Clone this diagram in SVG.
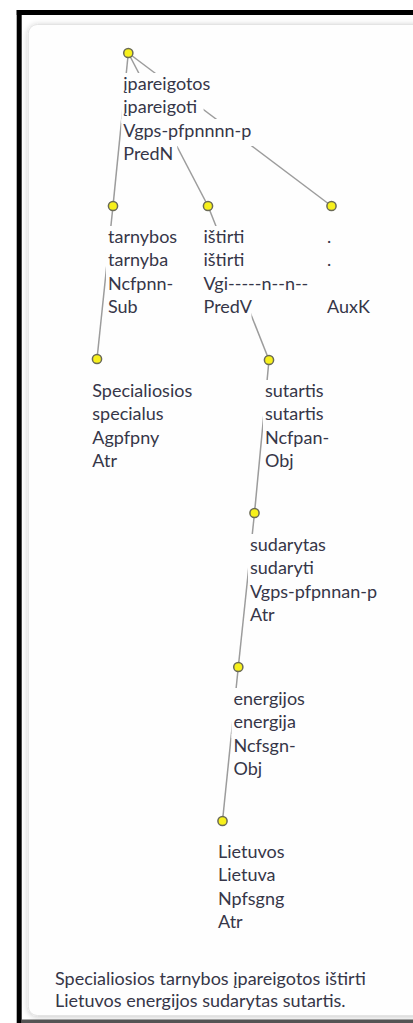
<svg xmlns="http://www.w3.org/2000/svg" width="413" height="1023" viewBox="0 0 413 1023">
<defs>
<style>
text{font-family:Lato,"Open Sans","Liberation Sans",sans-serif;font-size:18px;fill:#363648}
.bg{fill:#fefefe}
.e{stroke:#9c9c9c;stroke-width:1.5;fill:none}
.n{fill:#f7f01c;stroke:#6a6a55;stroke-width:1.5}
</style>
<filter id="sh" x="-5%" y="-5%" width="110%" height="110%">
<feGaussianBlur in="SourceAlpha" stdDeviation="3"/>
<feOffset dx="0" dy="1" result="b"/>
<feComponentTransfer><feFuncA type="linear" slope="0.22"/></feComponentTransfer>
<feMerge><feMergeNode/><feMergeNode in="SourceGraphic"/></feMerge>
</filter>
</defs>
<rect x="0" y="0" width="413" height="1023" fill="#ffffff"/>
<g id="frame">
<line x1="19.2" y1="10" x2="19.2" y2="1023" stroke="#000" stroke-width="5"/>
<line x1="16.7" y1="12.5" x2="413" y2="12.5" stroke="#000" stroke-width="5"/>
<line x1="21.7" y1="1021.3" x2="413" y2="1021.3" stroke="#555" stroke-width="3.5"/>
<rect x="28.3" y="24.5" width="410" height="991" rx="9" fill="#fefefe" stroke="#e4e4e4" stroke-width="1" filter="url(#sh)"/>
</g>
<g id="connectors">
<line class="e" x1="128.3" y1="53" x2="113" y2="206"/>
<line class="e" x1="128.3" y1="53" x2="208" y2="206"/>
<line class="e" x1="128.3" y1="53" x2="331.5" y2="206"/>
<line class="e" x1="113" y1="206" x2="97" y2="359"/>
<line class="e" x1="208" y1="206" x2="269" y2="360"/>
<line class="e" x1="269" y1="360" x2="254.5" y2="513"/>
<line class="e" x1="254.5" y1="513" x2="238.3" y2="667"/>
<line class="e" x1="238.3" y1="667" x2="222.5" y2="821"/>
</g>
<g id="n-root">
<rect class="bg" x="121.3" y="73" width="97.3" height="27"/>
<rect class="bg" x="121.3" y="96" width="82.3" height="27"/>
<rect class="bg" x="121.3" y="119" width="140.7" height="27"/>
<rect class="bg" x="121.3" y="142" width="56" height="27"/>
<text x="123.3" y="90">įpareigotos</text>
<text x="123.3" y="113.3">įpareigoti</text>
<text x="123.3" y="136.6">Vgps-pfpnnnn-p</text>
<text x="123.3" y="159.9">PredN</text>
<circle class="n" cx="128.3" cy="53" r="4.6"/>
</g>
<g id="n-tarnybos">
<rect class="bg" x="106" y="226" width="76" height="27"/>
<rect class="bg" x="106" y="249" width="67" height="27"/>
<rect class="bg" x="106" y="272" width="71" height="27"/>
<rect class="bg" x="106" y="295" width="35" height="27"/>
<text x="108" y="243">tarnybos</text>
<text x="108" y="266.3">tarnyba</text>
<text x="108" y="289.6">Ncfpnn-</text>
<text x="108" y="312.9">Sub</text>
<circle class="n" cx="113" cy="206" r="4.6"/>
</g>
<g id="n-istirti">
<rect class="bg" x="201.5" y="226" width="47" height="27"/>
<rect class="bg" x="201.5" y="249" width="47" height="27"/>
<rect class="bg" x="201.5" y="272" width="102" height="27"/>
<rect class="bg" x="201.5" y="295" width="50" height="27"/>
<text x="203.5" y="243">ištirti</text>
<text x="203.5" y="266.3">ištirti</text>
<text x="203.5" y="289.6">Vgi-----n--n--</text>
<text x="203.5" y="312.9">PredV</text>
<circle class="n" cx="208" cy="206" r="4.6"/>
</g>
<g id="n-period">
<text x="327" y="243">.</text>
<text x="327" y="266.3">.</text>
<text x="327" y="312.9">AuxK</text>
<circle class="n" cx="331.5" cy="206" r="4.6"/>
</g>
<g id="n-specialiosios">
<rect class="bg" x="90.3" y="380" width="107" height="27"/>
<rect class="bg" x="90.3" y="403" width="77" height="27"/>
<rect class="bg" x="90.3" y="426" width="74" height="27"/>
<rect class="bg" x="90.3" y="449" width="30" height="27"/>
<text x="92.3" y="397">Specialiosios</text>
<text x="92.3" y="420.3">specialus</text>
<text x="92.3" y="443.6">Agpfpny</text>
<text x="92.3" y="466.9">Atr</text>
<circle class="n" cx="97" cy="359" r="4.6"/>
</g>
<g id="n-sutartis">
<rect class="bg" x="263" y="380" width="64" height="27"/>
<rect class="bg" x="263" y="403" width="64" height="27"/>
<rect class="bg" x="263" y="426" width="69" height="27"/>
<rect class="bg" x="263" y="449" width="34" height="27"/>
<text x="265" y="397">sutartis</text>
<text x="265" y="420.3">sutartis</text>
<text x="265" y="443.6">Ncfpan-</text>
<text x="265" y="466.9">Obj</text>
<circle class="n" cx="269" cy="360" r="4.6"/>
</g>
<g id="n-sudarytas">
<rect class="bg" x="248" y="534" width="82" height="27"/>
<rect class="bg" x="248" y="557" width="70" height="27"/>
<rect class="bg" x="248" y="580" width="135" height="27"/>
<rect class="bg" x="248" y="603" width="30" height="27"/>
<text x="250" y="551">sudarytas</text>
<text x="250" y="574.3">sudaryti</text>
<text x="250" y="597.6">Vgps-pfpnnan-p</text>
<text x="250" y="620.9">Atr</text>
<circle class="n" cx="254.5" cy="513" r="4.6"/>
</g>
<g id="n-energijos">
<rect class="bg" x="231.5" y="688" width="79" height="27"/>
<rect class="bg" x="231.5" y="711" width="69" height="27"/>
<rect class="bg" x="231.5" y="734" width="66" height="27"/>
<rect class="bg" x="231.5" y="757" width="34" height="27"/>
<text x="233.5" y="705">energijos</text>
<text x="233.5" y="728.3">energija</text>
<text x="233.5" y="751.6">Ncfsgn-</text>
<text x="233.5" y="774.9">Obj</text>
<circle class="n" cx="238.3" cy="667" r="4.6"/>
</g>
<g id="n-lietuvos">
<rect class="bg" x="216" y="841" width="73" height="27"/>
<rect class="bg" x="216" y="864" width="64" height="27"/>
<rect class="bg" x="216" y="887" width="72" height="27"/>
<rect class="bg" x="216" y="910" width="30" height="27"/>
<text x="218" y="858">Lietuvos</text>
<text x="218" y="881.3">Lietuva</text>
<text x="218" y="904.6">Npfsgng</text>
<text x="218" y="927.9">Atr</text>
<circle class="n" cx="222.5" cy="821" r="4.6"/>
</g>
<g id="sentence">
<text x="55" y="985">Specialiosios tarnybos įpareigotos ištirti</text>
<text x="55" y="1007">Lietuvos energijos sudarytas sutartis.</text>
</g>
</svg>
